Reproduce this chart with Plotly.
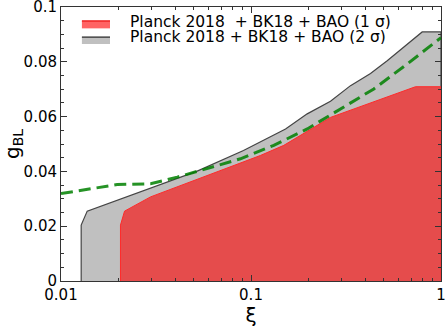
import plotly.graph_objects as go

# 2 sigma region (upper edge), xi vs g_BL
xi_2s = [0.01277, 0.01277, 0.01374, 0.0521, 0.0913, 0.152, 0.1976, 0.262, 0.334, 0.4256, 0.521, 0.796, 1.0]
g_2s = [0.0, 0.0204, 0.0255, 0.0401, 0.0476, 0.0555, 0.0610, 0.0656, 0.0713, 0.0757, 0.0804, 0.0909, 0.0909]

# 1 sigma region (upper edge)
xi_1s = [0.02056, 0.02056, 0.0216, 0.0296, 0.112, 0.1488, 0.262, 0.4615, 0.734, 1.0]
g_1s = [0.0, 0.0204, 0.0255, 0.0307, 0.0458, 0.0495, 0.0597, 0.0658, 0.0709, 0.0709]

# green dashed curve
xi_line = [0.01, 0.0145, 0.01976, 0.0296, 0.0409, 0.088, 0.1318, 0.1977, 0.2958, 0.443, 0.664, 1.0]
g_line = [0.0319, 0.0337, 0.0352, 0.0355, 0.0379, 0.0446, 0.0495, 0.0555, 0.0628, 0.0701, 0.0792, 0.0888]

name_1s = 'Planck 2018  + BK18 + BAO (1 σ)'
name_2s = 'Planck 2018 + BK18 + BAO (2 σ)'

fig = go.Figure()

# gray 2 sigma polygon, closed down to zero
fig.add_trace(go.Scatter(
    x=xi_2s + [xi_2s[-1]], y=g_2s + [0.0],
    mode='lines', fill='toself', fillcolor='#c0c0c0',
    line=dict(color='#444444', width=1.2),
    name=name_2s, showlegend=False
))

# red 1 sigma polygon
fig.add_trace(go.Scatter(
    x=xi_1s + [xi_1s[-1]], y=g_1s + [0.0],
    mode='lines', fill='toself', fillcolor='#e54c4c',
    line=dict(color='#ff2a2a', width=1),
    name=name_1s, showlegend=False
))

fig.add_trace(go.Scatter(
    x=xi_line, y=g_line, mode='lines',
    line=dict(color='rgba(0,128,0,0.85)', width=3, dash='12px,6px'),
    showlegend=False
))

# compact legend (matplotlib style spacing) drawn in paper coords
legend_rows = [
    (name_1s, '#ff6464', '#ee2222', 0.922, 0.949, 0.948),
    (name_2s, '#c0c0c0', '#444444', 0.865, 0.890, 0.893),
]
for text, fill, edge, y0, y1, ytxt in legend_rows:
    fig.add_shape(type='rect', xref='paper', yref='paper',
                  x0=0.055, x1=0.129, y0=y0, y1=y1,
                  fillcolor=fill, line_width=0)
    fig.add_shape(type='line', xref='paper', yref='paper',
                  x0=0.055, x1=0.129, y0=y1, y1=y1,
                  line=dict(color=edge, width=1.5))
    fig.add_annotation(xref='paper', yref='paper', x=0.18, y=ytxt,
                       xanchor='left', yanchor='middle', showarrow=False,
                       height=15, borderpad=0,
                       text=text, font=dict(size=15.5, color='black'))

axis_style = dict(
    showline=True, linecolor='#333333', linewidth=1, mirror='allticks',
    ticks='inside', ticklen=6, tickcolor='#333333',
    showgrid=False, zeroline=False, automargin=False,
    ticklabeloverflow='allow',
    tickfont=dict(size=15, color='black'),
)

fig.update_xaxes(
    type='log', range=[-2, 0],
    tickvals=[0.01, 0.1, 1], ticktext=['0.01', '0.1', '1'],
    minor=dict(ticks='inside', ticklen=3, tickcolor='#333333',
               tickvals=[j * 10 ** k for k in (-2, -1) for j in range(2, 10)]),
    title=dict(text='ξ', font=dict(size=20, color='black'), standoff=0),
    **axis_style
)
fig.update_yaxes(
    range=[0, 0.1], tickvals=[0, 0.02, 0.04, 0.06, 0.08, 0.1],
    ticktext=['0', '0.02', '0.04', '0.06', '0.08', '0.1'],
    minor=dict(ticks='inside', ticklen=3, tickcolor='#333333', dtick=0.005),
    title=dict(text='g<sub>BL</sub>', font=dict(size=20, color='black'), standoff=4),
    **axis_style
)

fig.update_layout(
    width=447, height=327,
    margin=dict(l=61, r=6, t=7, b=46),
    plot_bgcolor='white', paper_bgcolor='white',
    font=dict(family='DejaVu Sans', color='black'),
    showlegend=False,
)

# drop the browser's default page margin so the figure sits at the window corner
fig.write_html('out.html', config={'displayModeBar': False},
               post_script="document.body.style.margin='0';")
